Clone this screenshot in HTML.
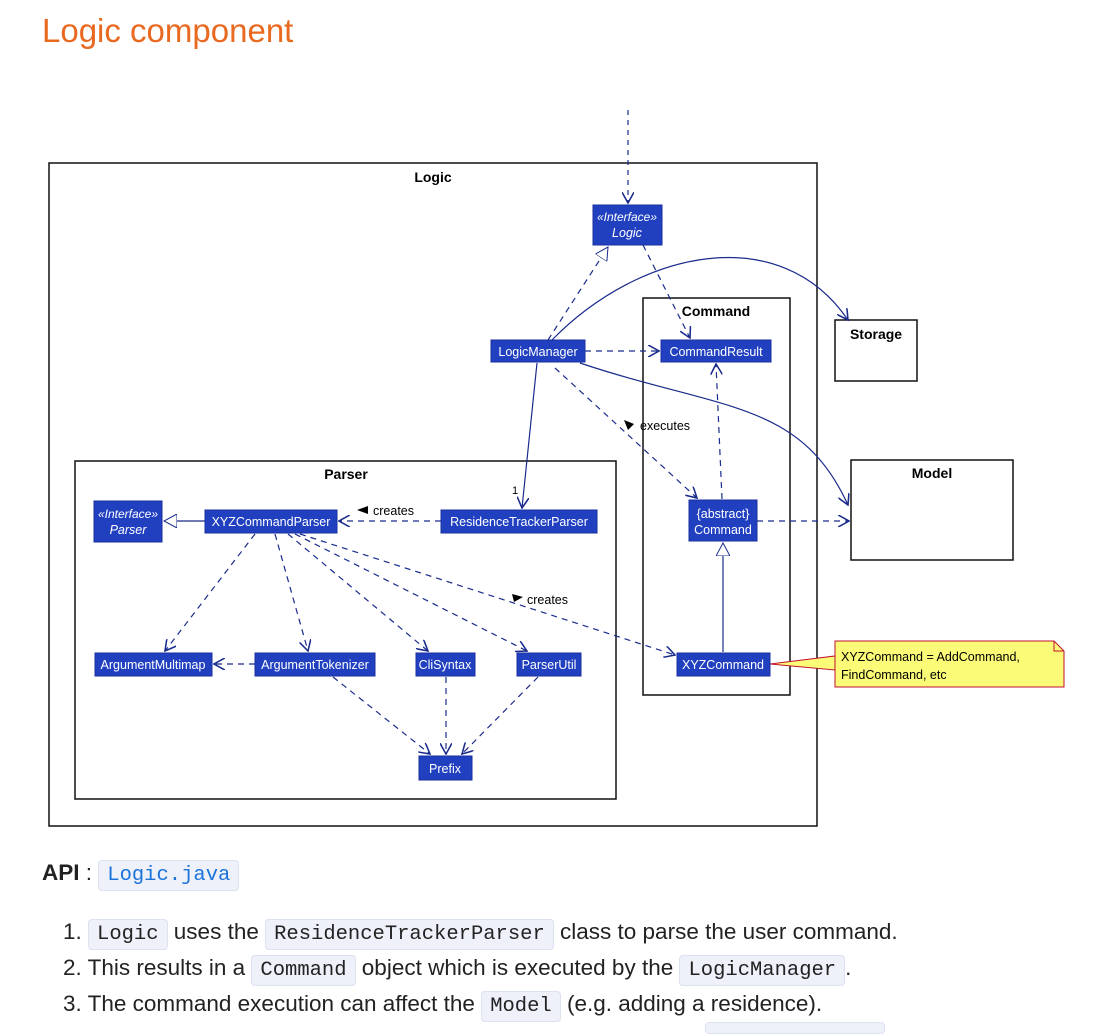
<!DOCTYPE html>
<html><head><meta charset="utf-8"><style>
body{margin:0;background:#fff;width:1105px;height:1028px;overflow:hidden;font-family:"Liberation Sans",sans-serif;position:relative}
h1{position:absolute;left:42px;top:12px;margin:0;font-weight:normal;font-size:33px;color:#e8691f}
.t{position:absolute;font-size:22.5px;color:#222;white-space:nowrap}
code{font-family:"Liberation Mono",monospace;font-size:20.5px;background:#eef0fa;border:1px solid #dde2f0;border-radius:4px;padding:3px 8px;color:#222}
</style></head><body>
<h1>Logic component</h1>
<svg width="1105" height="840" style="position:absolute;left:0;top:0" font-family="Liberation Sans,sans-serif">
<defs>
<marker id="a" viewBox="0 0 10 10" refX="9" refY="5" markerWidth="10" markerHeight="10" orient="auto"><path d="M0,0 L9,5 L0,10" fill="none" stroke="#1a2b8c" stroke-width="1.3"/></marker>
<marker id="h" viewBox="0 0 14 14" refX="13" refY="7" markerWidth="14" markerHeight="14" orient="auto" markerUnits="userSpaceOnUse"><path d="M0,0 L13,7 L0,14 Z" fill="#fff" stroke="#1a2b8c" stroke-width="1"/></marker>
</defs>
<g fill="none" stroke="#111" stroke-width="1.5">
<rect x="49" y="163" width="768" height="663"/>
<rect x="75" y="461" width="541" height="338"/>
<rect x="643" y="298" width="147" height="397"/>
<rect x="835" y="320" width="82" height="61"/>
<rect x="851" y="460" width="162" height="100"/>
</g>
<g font-weight="bold" font-size="14" text-anchor="middle" fill="#000">
<text x="433" y="182">Logic</text><text x="346" y="479">Parser</text><text x="716" y="316">Command</text><text x="876" y="339">Storage</text><text x="932" y="478">Model</text>
</g>
<g stroke="#1a2b8c" stroke-width="1.2" fill="none">
<path d="M628,110 L628,203" stroke-dasharray="5,5" marker-end="url(#a)"/>
<path d="M548,340 L608,247" stroke-dasharray="6,5" marker-end="url(#h)"/>
<path d="M643,245 L690,338" stroke-dasharray="6,5" marker-end="url(#a)"/>
<path d="M585,351 L659,351" stroke-dasharray="6,5" marker-end="url(#a)"/>
<path d="M552,340 C640,250 780,220 848,320" marker-end="url(#a)"/>
<path d="M580,363 C720,410 800,400 848,505" marker-end="url(#a)"/>
<path d="M537,363 L522,508" marker-end="url(#a)"/>
<path d="M555,368 L697,498" stroke-dasharray="6,5" marker-end="url(#a)"/>
<path d="M722,499 L716,364" stroke-dasharray="6,5" marker-end="url(#a)"/>
<path d="M757,521 L849,521" stroke-dasharray="6,5" marker-end="url(#a)"/>
<path d="M723,652 L723,543" marker-end="url(#h)"/>
<path d="M441,521 L339,521" stroke-dasharray="6,5" marker-end="url(#a)"/>
<path d="M205,521 L164,521" marker-end="url(#h)"/>
<path d="M255,534 L165,651" stroke-dasharray="6,5" marker-end="url(#a)"/>
<path d="M275,534 L308,651" stroke-dasharray="6,5" marker-end="url(#a)"/>
<path d="M288,534 L428,651" stroke-dasharray="6,5" marker-end="url(#a)"/>
<path d="M295,534 L527,651" stroke-dasharray="6,5" marker-end="url(#a)"/>
<path d="M300,534 L675,655" stroke-dasharray="6,5" marker-end="url(#a)"/>
<path d="M255,664 L214,664" stroke-dasharray="6,5" marker-end="url(#a)"/>
<path d="M333,677 L430,754" stroke-dasharray="6,5" marker-end="url(#a)"/>
<path d="M446,677 L446,754" stroke-dasharray="6,5" marker-end="url(#a)"/>
<path d="M538,677 L462,754" stroke-dasharray="6,5" marker-end="url(#a)"/>
</g>
<path d="M770,664 L835,656 L835,670 Z" fill="#fbfb77" stroke="#c0112f"/>
<path d="M835,641 L1054,641 L1064,651 L1064,687 L835,687 Z" fill="#fbfb77" stroke="#c0112f"/>
<path d="M1054,641 L1054,651 L1064,651" fill="none" stroke="#c0112f"/>
<g font-size="12.5" fill="#000">
<text x="841" y="661">XYZCommand = AddCommand,</text><text x="841" y="679">FindCommand, etc</text>
<text x="640" y="430">executes</text><text x="373" y="515">creates</text><text x="527" y="604">creates</text>
<text x="512" y="494" font-size="11">1</text>
</g>
<g fill="#000"><path d="M624,420 L634,424 L628,430 Z"/><path d="M357,510 L368,506 L368,514 Z"/><path d="M512,594 L523,597 L514,602 Z"/></g>
<g fill="#2140c0" stroke="#1a2fa0">
<rect x="593" y="205" width="69" height="40"/><rect x="491" y="340" width="94" height="22"/><rect x="661" y="340" width="110" height="22"/>
<rect x="441" y="510" width="156" height="23"/><rect x="689" y="500" width="68" height="41"/><rect x="677" y="653" width="93" height="23"/>
<rect x="94" y="501" width="68" height="41"/><rect x="205" y="510" width="132" height="23"/><rect x="95" y="653" width="117" height="23"/>
<rect x="255" y="653" width="120" height="23"/><rect x="416" y="653" width="59" height="23"/><rect x="517" y="653" width="64" height="23"/>
<rect x="419" y="756" width="53" height="24"/>
</g>
<g fill="#fff" font-size="12.5" text-anchor="middle">
<text x="627" y="221" font-style="italic" font-size="12">«Interface»</text><text x="627" y="237" font-style="italic">Logic</text>
<text x="538" y="356">LogicManager</text><text x="716" y="356">CommandResult</text>
<text x="519" y="526">ResidenceTrackerParser</text>
<text x="723" y="518">{abstract}</text><text x="723" y="534">Command</text>
<text x="723" y="669">XYZCommand</text>
<text x="128" y="518" font-style="italic" font-size="12">«Interface»</text><text x="128" y="534" font-style="italic">Parser</text>
<text x="271" y="526">XYZCommandParser</text><text x="153" y="669">ArgumentMultimap</text>
<text x="315" y="669">ArgumentTokenizer</text><text x="445" y="669">CliSyntax</text><text x="549" y="669">ParserUtil</text>
<text x="445" y="773">Prefix</text>
</g>
</svg>
<div class="t" style="left:42px;top:860px"><b>API</b> : <code style="color:#1a73d9">Logic.java</code></div>
<div class="t" style="left:63px;top:919px">1. <code>Logic</code> uses the <code>ResidenceTrackerParser</code> class to parse the user command.</div>
<div class="t" style="left:63px;top:955px">2. This results in a <code>Command</code> object which is executed by the <code>LogicManager</code>.</div>
<div class="t" style="left:63px;top:991px">3. The command execution can affect the <code>Model</code> (e.g. adding a residence).</div>
<div style="position:absolute;left:705px;top:1022px;width:178px;height:10px;background:#eef0fa;border:1px solid #dde2f0;border-radius:4px"></div>
</body></html>
